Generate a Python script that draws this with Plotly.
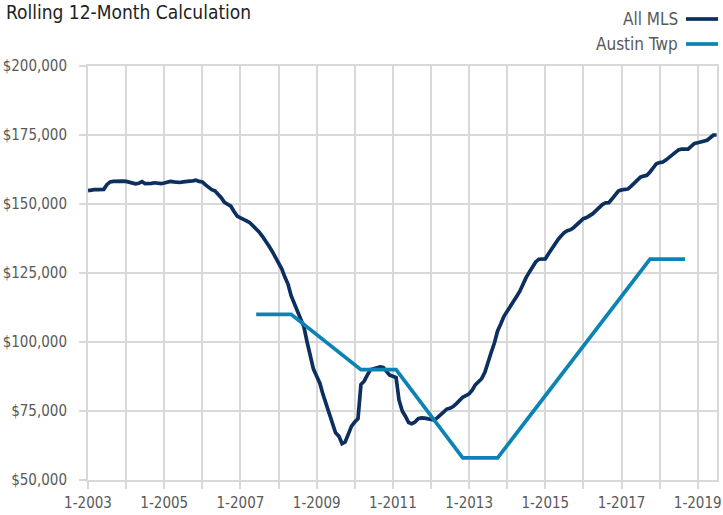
import plotly.graph_objects as go
import pandas as pd

# ---- data ----
mls_start = "2003-01-01"
all_mls = [
    154800, 155100, 155200, 155200, 155200, 155300, 157000, 158000, 158200, 158300,
    158300, 158300, 158200, 157800, 157400, 157300, 157500, 158100, 157400, 157300,
    157500, 157700, 157400, 157400, 157600, 157900, 158200, 158000, 157800, 157800,
    158000, 158300, 158300, 158400, 158600, 158200, 158000, 156900, 155900, 155200,
    154800, 153700, 152300, 150600, 149900, 149200, 147300, 145600, 145000, 144600,
    143900, 143200, 142100, 141000, 139800, 138200, 136600, 134800, 132900, 131000,
    129100, 126500, 123600, 121000, 116800, 114000, 111500, 108300, 105400, 100000,
    95500, 90200, 87600, 85000, 81200, 77500, 74300, 70700, 67100, 65900,
    63200, 63800, 66500, 69500, 71000, 72200, 84600, 85800, 88000, 90000,
    90300, 90500, 91000, 90800, 89600, 88000, 87600, 87100, 79000, 75000,
    73100, 70800, 70400, 71000, 72200, 72500, 72400, 72200, 72000, 71700,
    72500, 73500, 74800, 75700, 76000, 76600, 77700, 78800, 80000, 80600,
    81200, 82600, 84500, 85600, 86700, 89000, 93000, 96300, 99700, 104000,
    106600, 109300, 111100, 112800, 114800, 116500, 118300, 121300, 123300, 125300,
    127400, 129000, 130000, 130100, 130100, 132000, 133700, 135300, 137000, 138400,
    139600, 140300, 140700, 141500, 142500, 143700, 144700, 145100, 145600, 146500,
    147600, 148800, 149800, 150400, 150500, 151800, 153300, 154700, 155100, 155200,
    155400, 156400, 157500, 158600, 159700, 160100, 160400, 161600, 163000, 164600,
    165000, 165200, 165900, 166800, 167900, 168900, 169600, 169900, 169900, 169900,
    171000, 171900, 172200, 172400, 172800, 173100, 174000, 175000, 175000,
]
mls_dates = pd.date_range(mls_start, periods=len(all_mls), freq="MS")

austin_dates = ["2007-06-01", "2008-05-01", "2010-03-01", "2011-02-01",
                "2012-11-01", "2013-10-01", "2017-10-01", "2018-09-01"]
austin_values = [110000, 110000, 90000, 90000, 58000, 58000, 130000, 130000]

series_names = ["All MLS", "Austin Twp"]
series_colors = ["#0c2f5f", "#0b84b5"]

tick_years = list(range(2003, 2020, 2))
tick_vals = [f"{y}-01-01" for y in tick_years]
tick_text = [f"1-{y}" for y in tick_years]
y_ticks = [50000, 75000, 100000, 125000, 150000, 175000, 200000]

FONT = "DejaVu Sans Condensed, Liberation Sans Narrow, Arial Narrow, sans-serif"
GRID = "#d9d9d9"
TXT = "#595959"

fig = go.Figure()
fig.add_trace(go.Scatter(x=mls_dates, y=all_mls, mode="lines", name=series_names[0],
                         line=dict(color=series_colors[0], width=3.7), showlegend=False))
fig.add_trace(go.Scatter(x=austin_dates, y=austin_values, mode="lines", name=series_names[1],
                         line=dict(color=series_colors[1], width=3.7), showlegend=False))

fig.update_layout(
    width=723, height=515,
    margin=dict(l=88, r=6, t=66, b=35),
    paper_bgcolor="white", plot_bgcolor="white",
    font=dict(family=FONT, color=TXT, size=14),
    title=dict(text="Rolling 12-Month Calculation", xref="container", x=0.0,
               xanchor="left", y=0.976, yanchor="middle", pad=dict(l=6, t=0, b=0, r=0),
               font=dict(family=FONT, size=19, color="#222222")),
)
fig.update_xaxes(
    type="date", range=["2003-01-01", "2019-07-05"],
    tickvals=tick_vals, ticktext=tick_text, automargin=False,
    showgrid=True, gridcolor=GRID, gridwidth=2,
    ticks="outside", ticklen=7, tickcolor=GRID, tickwidth=2,
    minor=dict(dtick="M12", tick0="2004-01-01", showgrid=True, gridcolor=GRID,
               gridwidth=2, ticks="outside", ticklen=7, tickcolor=GRID, tickwidth=2),
    showline=True, linecolor=GRID, linewidth=2, mirror=True,
    ticklabelstandoff=1,
    tickfont=dict(size=15, color=TXT, family=FONT),
)
fig.update_yaxes(
    range=[50000, 200000], tickvals=y_ticks, tickformat="$,.0f", automargin=False,
    showgrid=True, gridcolor=GRID, gridwidth=2,
    ticks="outside", ticklen=7, tickcolor=GRID, tickwidth=2,
    showline=True, linecolor=GRID, linewidth=2, mirror=True,
    zeroline=False, ticklabelstandoff=9,
    tickfont=dict(size=15, color=TXT, family=FONT),
)

# legend (text left of line sample, right aligned)
leg_y = [19, 44]
for name, color, yy in zip(series_names, series_colors, leg_y):
    yp = 1 + (66 - yy) / 414
    fig.add_annotation(text=name, xref="paper", yref="paper", x=(680 - 88) / 629, y=yp,
                       xanchor="right", yanchor="middle", showarrow=False,
                       font=dict(family=FONT, size=17, color=TXT))
    fig.add_shape(type="line", xref="paper", yref="paper",
                  x0=(686 - 88) / 629, x1=(718 - 88) / 629, y0=yp, y1=yp,
                  line=dict(color=color, width=3.7))

fig.write_html("out.html", config={"displayModeBar": False},
               post_script="document.body.style.margin='0';document.body.style.padding='0';")
